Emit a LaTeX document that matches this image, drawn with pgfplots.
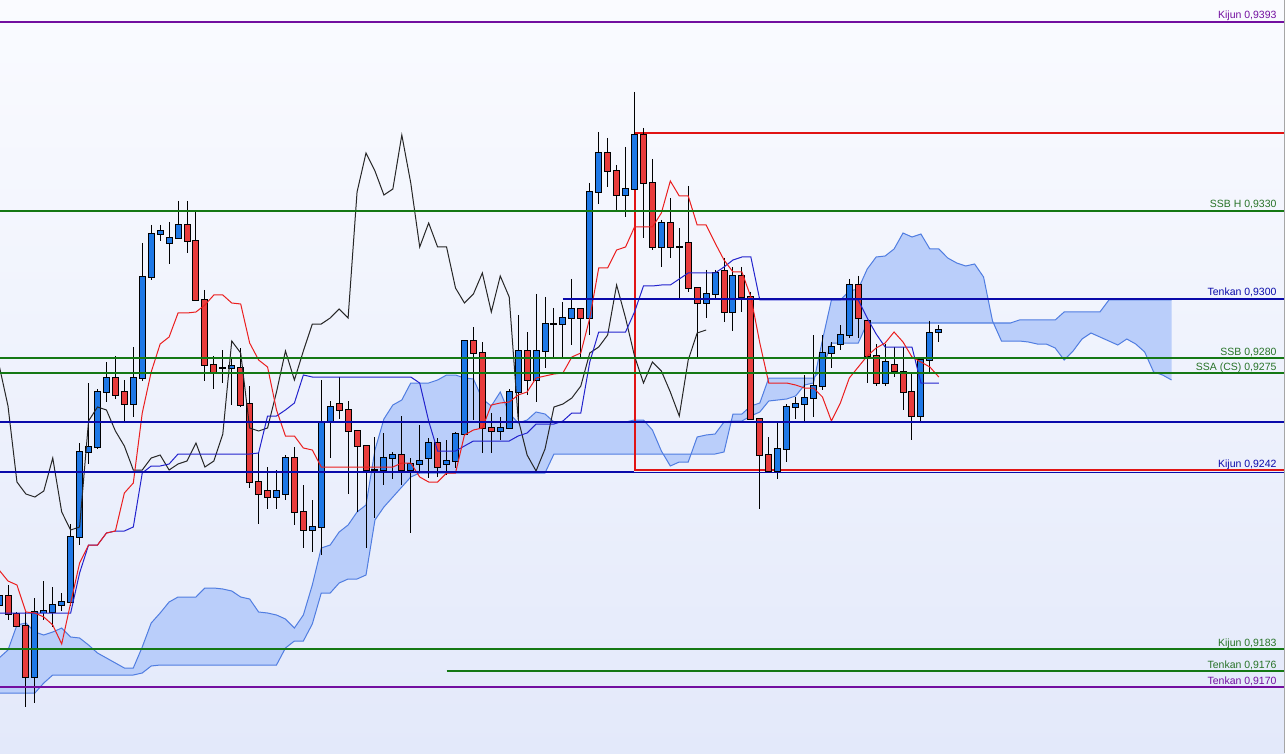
\documentclass[border=0pt]{standalone}
\usepackage{pgfplots}
\pgfplotsset{compat=1.18}
\usepackage{pgfplotstable}
\usepgfplotslibrary{fillbetween}
\usepackage{fontspec}
\setmainfont{Liberation Sans}
\definecolor{bgtop}{RGB}{250,251,255}
\definecolor{bgbot}{RGB}{227,233,250}
\definecolor{bull}{RGB}{30,120,230}
\definecolor{bear}{RGB}{232,60,60}
\definecolor{cloudfill}{RGB}{186,206,250}
\definecolor{cloudedge}{RGB}{80,125,225}
\definecolor{tenkanred}{RGB}{235,30,30}
\definecolor{kijunblue}{RGB}{35,35,205}
\definecolor{lvgreen}{RGB}{20,120,20}
\definecolor{lvblue}{RGB}{10,10,170}
\definecolor{lvpurple}{RGB}{115,15,160}
\definecolor{lvred}{RGB}{225,20,20}
\definecolor{txtgreen}{RGB}{40,115,40}
\tikzset{lbl/.style={anchor=base east, font=\fontsize{10.5}{12}\selectfont}}

% candles: k = candle index, prices in picture rows (y grows downward)
\pgfplotstableread{
k o h l c
0 605 590 612 596
4 677 598 703 612
5 612 581 620 611
6 612 587 627 605
7 605 593 611 602
8 602 524 606 537
9 537 443 545 452
10 452 383 464 447
11 447 389 449 392
12 392 362 402 378
15 404 347 417 378
16 378 243 381 277
17 277 225 280 234
18 234 225 241 231
19 243 222 264 238
20 238 201 238 225
25 368 350 383 368
26 368 357 405 366
31 497 470 509 491
32 494 455 500 458
35 530 500 552 527
36 527 380 555 422
37 422 401 458 407
42 470 437 518 470
43 470 433 485 458
44 458 452 479 455
46 470 458 533 464
47 464 425 473 461
48 458 438 478 443
50 464 440 475 461
51 461 432 468 434
52 434 340 435 341
56 431 417 440 428
57 428 389 428 392
58 392 315 423 351
60 380 294 402 351
61 351 297 368 324
62 324 308 357 324
63 324 302 357 318
64 318 279 345 309
66 318 183 335 192
67 192 132 204 153
70 195 147 217 189
71 189 92 189 135
74 247 220 267 223
76 247 228 299 247
79 303 270 318 294
80 294 270 298 273
82 312 267 331 276
87 471 423 479 449
88 449 404 462 407
89 407 397 419 404
90 404 375 422 398
91 398 335 417 386
92 386 335 390 353
93 353 342 368 347
94 344 325 350 335
95 335 279 338 285
99 383 344 386 362
103 416 360 422 360
104 360 321 372 333
105 332 325 342 330
}\bull
\pgfplotstableread{
k o h l c
1 596 585 620 614
2 614 612 627 626
3 626 612 707 677
13 378 356 399 395
14 392 380 421 404
21 225 201 253 241
22 241 212 300 300
23 300 290 381 365
24 365 356 389 372
27 368 348 407 405
28 404 386 488 482
29 482 452 524 494
30 491 467 509 497
33 458 447 525 512
34 512 485 548 530
38 404 377 419 410
39 410 401 494 431
40 431 431 512 446
41 446 446 548 470
45 455 416 485 470
49 443 438 477 467
53 341 327 420 353
54 353 342 453 428
55 428 413 453 431
59 351 332 395 380
65 309 309 357 318
68 153 138 187 171
69 171 165 210 195
72 135 128 238 183
73 183 159 250 247
75 223 198 258 247
77 243 186 292 288
78 288 288 357 303
81 271 258 322 312
83 276 267 312 297
84 297 292 419 419
85 419 419 509 455
86 455 437 471 471
96 285 276 338 318
97 321 321 383 356
98 356 344 386 383
100 365 347 377 371
101 372 347 410 392
102 392 372 440 416
}\bear
% Tenkan (T) and Kijun (K)
\pgfplotstableread{
k T K
0 570 613
1 581 613
2 585 613
3 612 613
4 613 613
5 617 613
6 625 613
7 644 613
8 603 613
9 563 573
10 545 545
11 545 545
12 533 533
13 531 531
14 493 531
15 483 527
16 413 473
17 372 466
18 344 466
19 337 464
20 313 454
21 313 454
22 312 454
23 305 454
24 295 454
25 295 454
26 303 454
27 304 454
28 343 454
29 360 453
30 367 416
31 410 416
32 436 410
33 436 403
34 448 375
35 450 377
36 467 377
37 467 377
38 467 377
39 467 377
40 467 377
41 467 377
42 467 377
43 467 377
44 467 377
45 463 377
46 463 377
47 477 383
48 482 421
49 482 451
50 473 451
51 473 451
52 435 446
53 430 441
54 428 441
55 405 441
56 403 441
57 402 441
58 395 436
59 392 433
60 378 424
61 376 424
62 374 424
63 373 421
64 357 413
65 353 413
66 318 362
67 268 332
68 268 332
69 250 332
70 247 332
71 227 312
72 227 286
73 227 286
74 213 285
75 181 285
76 196 279
77 196 273
78 225 273
79 225 273
80 243 273
81 260 267
82 272 260
83 272 257
84 297 257
85 343 300
86 383 300
87 383 300
88 383 300
89 385 300
90 388 300
91 388 300
92 397 300
93 421 300
94 403 300
95 378 300
96 367 300
97 356 318
98 348 334
99 343 347
100 332 347
101 342 347
102 357 347
103 362 383
104 367 383
105 377 383
}\lines
% Chikou span
\pgfplotstableread{
k C
0 365
1 406
2 482
3 494
4 497
5 491
6 458
7 512
8 530
9 527
10 421
11 407
12 410
13 431
14 446
15 470
16 470
17 458
18 455
19 470
20 464
21 461
22 443
23 467
24 461
25 434
26 341
27 353
28 428
29 431
30 428
31 392
32 351
33 380
34 351
35 324
36 324
37 318
38 309
39 318
40 192
41 153
42 171
43 195
44 189
45 135
46 183
47 247
48 223
49 247
50 247
51 288
52 303
53 294
54 273
55 312
56 276
57 297
58 419
59 455
60 471
61 449
62 407
63 404
64 398
65 386
66 353
67 347
68 335
69 285
70 318
71 356
72 383
73 362
74 371
75 392
76 416
77 360
78 333
79 330
}\chikou
% Cloud: A = Senkou A, B = Senkou B
\pgfplotstableread{
k A B
0 658 693
1 650 693
2 625 693
3 623 693
4 632 693
5 635 683
6 632 675
7 628 675
8 637 675
9 638 675
10 645 675
11 653 675
12 658 675
13 663 675
14 668 675
15 668 675
16 647 673
17 623 666
18 613 665
19 602 665
20 597 665
21 597 665
22 597 665
23 588 665
24 588 665
25 589 665
26 591 665
27 597 665
28 599 665
29 612 665
30 613 665
31 615 665
32 619 648
33 628 641
34 615 641
35 585 624
36 548 593
37 545 593
38 532 583
39 525 579
40 512 579
41 505 575
42 450 520
43 419 507
44 405 497
45 400 487
46 383 477
47 383 473
48 383 473
49 380 473
50 375 473
51 375 473
52 378 473
53 379 473
54 399 473
55 406 473
56 392 473
57 413 473
58 423 473
59 420 473
60 412 473
61 414 473
62 422 454
63 422 454
64 422 454
65 422 454
66 422 454
67 422 454
68 422 454
69 422 454
70 422 454
71 420 454
72 420 454
73 430 454
74 451 454
75 466 454
76 462 454
77 462 454
78 437 454
79 435 454
80 434 454
81 422 452
82 421 414
83 421 414
84 416 406
85 412 403
86 401 378
87 400 378
88 399 378
89 396 378
90 385 378
91 383 378
92 340 369
93 300 343
94 300 343
95 291 343
96 289 343
97 269 323
98 257 323
99 256 323
100 249 323
101 233 323
102 237 323
103 234 323
104 249 323
105 249 323
106 258 323
107 263 323
108 266 323
109 264 323
110 277 323
111 321 323
112 341 323
113 341 323
114 341 320
115 342 320
116 344 320
117 344 320
118 348 320
119 360 312
120 351 312
121 339 312
122 333 312
123 337 312
124 341 300
125 345 300
126 339 300
127 344 300
128 352 300
129 372 300
130 375 300
131 380 300
}\cloud

\begin{document}
\begin{tikzpicture}
\begin{axis}[
  set layers,
  scale only axis, width=1285pt, height=753pt,
  xmin=0.106, xmax=143.68, ymin=0, ymax=753, y dir=reverse,
  axis line style={draw=none}, ticks=none,
  axis background/.style={top color=bgtop, bottom color=bgbot},
]
% cloud
\addplot[name path=A, cloudedge, line width=1pt, forget plot] table[x=k, y=A] {\cloud};
\addplot[name path=B, cloudedge, line width=1pt, forget plot] table[x=k, y=B] {\cloud};
\addplot[cloudfill, forget plot] fill between[of=A and B];
% red box
\addplot[lvred, line width=2pt, forget plot] coordinates {(145,133) (71,133) (71,470) (145,470)};
% candles: wicks
\addplot[draw=none, mark=none, forget plot, error bars/.cd, y dir=plus, y explicit, error mark=none,
  error bar style={draw=black, line width=1pt}] table[x=k, y=h, y error expr=\thisrow{l}-\thisrow{h}] {\bull};
\addplot[draw=none, mark=none, forget plot, error bars/.cd, y dir=plus, y explicit, error mark=none,
  error bar style={draw=black, line width=1pt}] table[x=k, y=h, y error expr=\thisrow{l}-\thisrow{h}] {\bear};
% candle bodies: outline
\addplot[draw=none, mark=none, forget plot, error bars/.cd, y dir=both, y explicit, error mark=none,
  error bar style={draw=black, line width=7pt}] table[x=k, y expr=(\thisrow{o}+\thisrow{c})/2, y error expr=abs(\thisrow{o}-\thisrow{c})/2+1] {\bull};
\addplot[draw=none, mark=none, forget plot, error bars/.cd, y dir=both, y explicit, error mark=none,
  error bar style={draw=black, line width=7pt}] table[x=k, y expr=(\thisrow{o}+\thisrow{c})/2, y error expr=abs(\thisrow{o}-\thisrow{c})/2+1] {\bear};
% candle bodies: fill
\addplot[draw=none, mark=none, forget plot, error bars/.cd, y dir=both, y explicit, error mark=none,
  error bar style={draw=bull, line width=5pt}] table[x=k, y expr=(\thisrow{o}+\thisrow{c})/2, y error expr=abs(\thisrow{o}-\thisrow{c})/2] {\bull};
\addplot[draw=none, mark=none, forget plot, error bars/.cd, y dir=both, y explicit, error mark=none,
  error bar style={draw=bear, line width=5pt}] table[x=k, y expr=(\thisrow{o}+\thisrow{c})/2, y error expr=abs(\thisrow{o}-\thisrow{c})/2] {\bear};
% indicator lines
\addplot[black!85, line width=1pt, forget plot] table[x=k, y=C] {\chikou};
\addplot[kijunblue, line width=1pt, forget plot] table[x=k, y=K] {\lines};
\addplot[tenkanred, line width=1pt, forget plot] table[x=k, y=T] {\lines};
% level lines
\addplot[lvpurple, line width=2pt, forget plot] coordinates {(0,22) (145,22)};
\addplot[lvgreen, line width=2pt, forget plot] coordinates {(0,211) (145,211)};
\addplot[lvblue, line width=2pt, forget plot] coordinates {(63,299) (145,299)};
\addplot[lvgreen, line width=2pt, forget plot] coordinates {(0,358) (145,358)};
\addplot[lvgreen, line width=2pt, forget plot] coordinates {(0,373) (145,373)};
\addplot[lvblue, line width=2pt, forget plot] coordinates {(0,422) (145,422)};
\addplot[lvblue, line width=2pt, forget plot] coordinates {(0,472) (70.9,472)};
\addplot[lvblue, line width=1.5pt, forget plot] coordinates {(70.9,472.5) (145,472.5)};
\addplot[lvgreen, line width=2pt, forget plot] coordinates {(0,649) (145,649)};
\addplot[lvgreen, line width=2pt, forget plot] coordinates {(50,671) (145,671)};
\addplot[lvpurple, line width=2pt, forget plot] coordinates {(0,687) (145,687)};
\addplot[gray!70, line width=1pt, forget plot] coordinates {(143.57,0) (143.57,753)};
% labels
\node[lbl, text=lvpurple] at (axis cs:143.12,19) {Kijun 0,9393};
\node[lbl, text=txtgreen] at (axis cs:143.12,208) {SSB H 0,9330};
\node[lbl, text=lvblue] at (axis cs:143.12,296) {Tenkan 0,9300};
\node[lbl, text=txtgreen] at (axis cs:143.12,355) {SSB 0,9280};
\node[lbl, text=txtgreen] at (axis cs:143.12,370) {SSA (CS) 0,9275};
\node[lbl, text=lvblue] at (axis cs:143.12,467) {Kijun 0,9242};
\node[lbl, text=txtgreen] at (axis cs:143.12,646) {Kijun 0,9183};
\node[lbl, text=txtgreen] at (axis cs:143.12,668) {Tenkan 0,9176};
\node[lbl, text=lvpurple] at (axis cs:143.12,684) {Tenkan 0,9170};
\end{axis}
\end{tikzpicture}
\end{document}
